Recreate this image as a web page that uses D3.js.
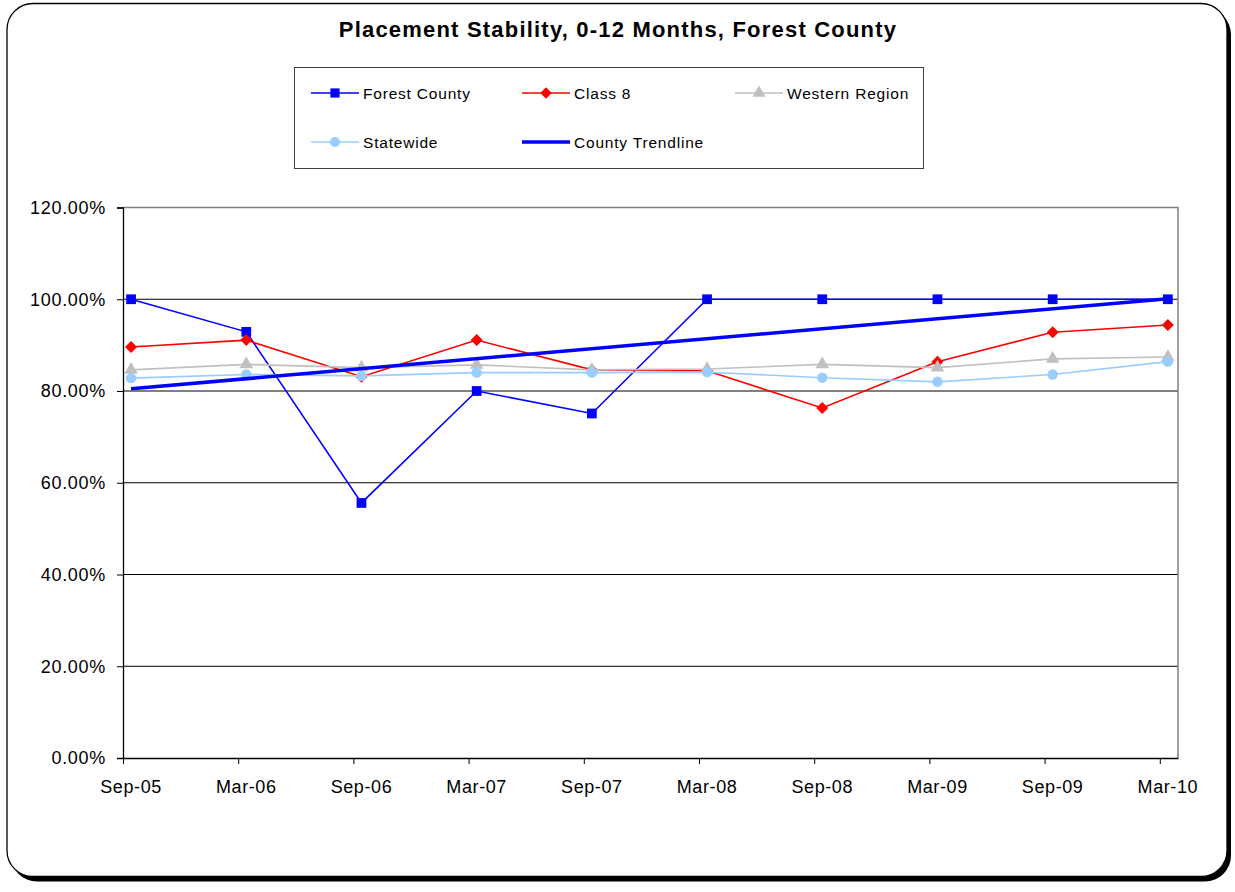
<!DOCTYPE html>
<html><head><meta charset="utf-8">
<script src="https://cdn.jsdelivr.net/npm/d3@7"></script>
<style>body{margin:0;background:#fff}svg{display:block}text{font-family:"Liberation Sans",Arial,sans-serif}</style>
</head><body>
<svg id="c" width="1235" height="892"></svg>
<script>
const categories = ["Sep-05","Mar-06","Sep-06","Mar-07","Sep-07","Mar-08","Sep-08","Mar-09","Sep-09","Mar-10"];
const forestCounty = [100, 92.9, 55.6, 80.0, 75.1, 100, 100, 100, 100, 100];
const class8 = [89.6, 91.1, 83.1, 91.1, 84.6, 84.4, 76.3, 86.4, 92.8, 94.4];
const westernRegion = [84.6, 85.8, 85.1, 85.7, 84.6, 84.8, 85.8, 85.1, 87.0, 87.4];
const statewide = [82.8, 83.6, 83.3, 84.0, 84.0, 84.1, 82.9, 82.0, 83.6, 86.4];
const trendCategories = ["Sep-05","Mar-10"];
const trendValues = [80.5, 100.1];
const yTicks = [0, 20, 40, 60, 80, 100, 120];
const title = "Placement Stability, 0-12 Months, Forest County";

const svg = d3.select("#c");
const font = '"Liberation Sans",Arial,sans-serif';

// frame with shadow
svg.append("rect").attr("x",11).attr("y",8.5).attr("width",1220).attr("height",873)
  .attr("rx",26).attr("fill","#000");
svg.append("rect").attr("x",7).attr("y",3.5).attr("width",1220).attr("height",873)
  .attr("rx",26).attr("fill","#fff").attr("stroke","#000").attr("stroke-width",1.3);

// title
svg.append("text").attr("x",618).attr("y",37).attr("text-anchor","middle")
  .attr("font-size",22).attr("font-weight","bold").attr("letter-spacing",1.2)
  .text(title);

const L = 123, R = 1178, T = 207.5, B = 758;
const ptOff = 0.07;
const x = d3.scaleLinear().domain([0, 9.158]).range([L, R]);
const y = d3.scaleLinear().domain([0, 120]).range([B, T]);
const xi = c => x(categories.indexOf(c) + ptOff);

// gridlines
svg.append("g").selectAll("line").data(yTicks.filter(v => v > 0 && v < 120)).join("line")
  .attr("x1",L).attr("x2",R).attr("y1",d=>y(d)).attr("y2",d=>y(d))
  .attr("stroke","#000").attr("stroke-width",1);
// plot border top/right
svg.append("path").attr("d",`M${L},${y(120)}H${R}V${B}`).attr("fill","none")
  .attr("stroke","#808080").attr("stroke-width",1.5);

// y axis
const yAxis = d3.axisLeft(y).tickValues(yTicks).tickFormat(d => d3.format(".2%")(d/100)).tickSize(6).tickPadding(11);
const gy = svg.append("g").attr("transform",`translate(${L},0)`).call(yAxis);
gy.select(".domain").attr("stroke","#000").attr("stroke-width",1.3);
gy.selectAll(".tick line").attr("stroke","#000");
gy.selectAll("text").attr("font-size",18).attr("font-family",font).attr("fill","#000").attr("letter-spacing",0.7);

// x axis
const xAxis = d3.axisBottom(x).tickValues(d3.range(categories.length)).tickFormat("").tickSize(6).tickSizeOuter(0);
const gx = svg.append("g").attr("transform",`translate(0,${B})`).call(xAxis);
gx.select(".domain").attr("stroke","#000").attr("stroke-width",1.3);
gx.selectAll(".tick line").attr("stroke","#000");
svg.append("g").selectAll("text").data(categories).join("text")
  .attr("x",d=>xi(d)).attr("y",B+35).attr("text-anchor","middle")
  .attr("font-size",18).attr("letter-spacing",0.6).text(d=>d);

const line = d3.line().x(d=>xi(d.c)).y(d=>y(d.v));
const series = [
  {name:"Forest County", vals:forestCounty, color:"#0000FF", sym:d3.symbolSquare, size:95, rot:0},
  {name:"Class 8", vals:class8, color:"#FF0000", sym:d3.symbolSquare, size:72, rot:45},
  {name:"Western Region", vals:westernRegion, color:"#C0C0C0", sym:d3.symbolTriangle, size:80, rot:0},
  {name:"Statewide", vals:statewide, color:"#99CCFF", sym:d3.symbolCircle, size:85, rot:0}
];
series.forEach(s => {
  const pts = categories.map((c,i)=>({c, v:s.vals[i]}));
  svg.append("path").attr("d",line(pts)).attr("fill","none").attr("stroke",s.color).attr("stroke-width",1.6);
  svg.append("g").selectAll("path").data(pts).join("path")
    .attr("d", d3.symbol().type(s.sym).size(s.size))
    .attr("transform", d=>`translate(${xi(d.c)},${y(d.v)}) rotate(${s.rot})`)
    .attr("fill", s.color);
});
// trendline
const tpts = trendCategories.map((c,i)=>({c, v:trendValues[i]}));
svg.append("path").attr("d",line(tpts)).attr("fill","none").attr("stroke","#0000FF").attr("stroke-width",3.5);

// legend
svg.append("rect").attr("x",294.5).attr("y",67.5).attr("width",629).attr("height",101)
  .attr("fill","#fff").attr("stroke","#404040").attr("stroke-width",1);
const legItems = [
  {name:"Forest County", color:"#0000FF", sym:d3.symbolSquare, size:85, rot:0, lx:311, ly:93},
  {name:"Class 8", color:"#FF0000", sym:d3.symbolSquare, size:66, rot:45, lx:522, ly:93},
  {name:"Western Region", color:"#C0C0C0", sym:d3.symbolTriangle, size:75, rot:0, lx:735, ly:93},
  {name:"Statewide", color:"#99CCFF", sym:d3.symbolCircle, size:80, rot:0, lx:311, ly:142},
  {name:"County Trendline", color:"#0000FF", sym:null, size:0, rot:0, lx:522, ly:142}
];
const lg = svg.append("g").selectAll("g").data(legItems).join("g")
  .attr("transform", d=>`translate(${d.lx},${d.ly})`);
lg.append("line").attr("x1",0).attr("x2",48).attr("y1",0).attr("y2",0)
  .attr("stroke",d=>d.color).attr("stroke-width",d=>d.sym?1.6:3.5);
lg.filter(d=>d.sym).append("path").attr("d",d=>d3.symbol().type(d.sym).size(d.size)())
  .attr("transform",d=>`translate(24,0) rotate(${d.rot})`).attr("fill",d=>d.color);
lg.append("text").attr("x",52).attr("y",5.5).attr("font-size",15.5).attr("letter-spacing",0.8).text(d=>d.name);
</script>
</body></html>
